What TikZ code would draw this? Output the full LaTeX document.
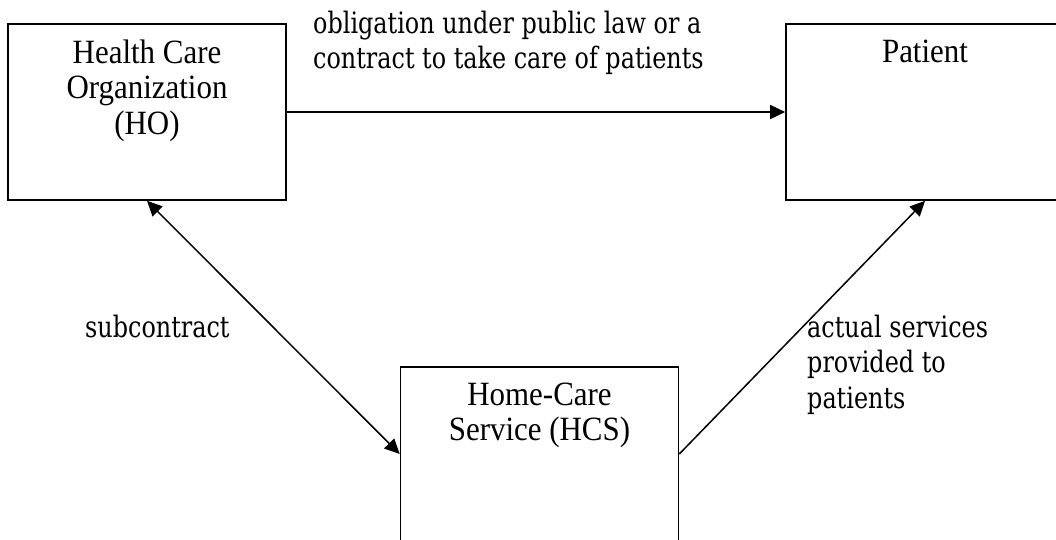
\documentclass[tikz,border=0pt]{standalone}
\usepackage{fontspec}
\setmainfont{Liberation Serif}[FakeStretch=0.91]
\newfontfamily\notefont{DejaVu Serif}[FakeStretch=0.81]
\usetikzlibrary{arrows.meta}
% invisible strut fixing the top of a first line 25pt above its baseline
\newcommand\lnup{\rule{0pt}{25pt}}

\begin{document}
\begin{tikzpicture}[x=1pt,y=-1pt,
  party/.style={draw, line width=1.6pt, rectangle, minimum width=278pt,
    minimum height=176pt, inner sep=0},
  boxtext/.style={anchor=north, inner sep=0, align=center,
    font=\fontsize{34}{35.5}\selectfont},
  note/.style={anchor=north west, inner sep=0, align=left,
    font=\notefont\fontsize{29.5}{35.5}\selectfont},
  tip/.tip={Triangle[length=15pt,width=14pt]},
  link/.style={line width=1.5pt, -tip},
  duallink/.style={line width=1.5pt, tip-tip},
]
\useasboundingbox (0,0) rectangle (1056,539);
\clip (0,0) rectangle (1056,539);

% the three parties
\node[party] (ho) at (147,112) {};
\node[party] (pat) at (925,112) {};
\node[party, minimum height=174pt] (hcs) at (539.5,454) {};

\node[boxtext] (hotext) at (147,38) {\lnup Health Care\\Organization\\(HO)};
\node[boxtext] (pattext) at (925,37) {\lnup Patient};
\node[boxtext] (hcstext) at (539.5,380) {\lnup Home-Care\\Service (HCS)};

% relations between them
\draw[link] (ho.east) -- (pat.west);
\draw[duallink] (ho.south) -- (hcs.west);
\draw[link] (hcs.east) -- (pat.south);

\node[note] (oblig) at (313,8)
  {\lnup obligation under public law or a\\contract to take care of patients};
\node[note] (sub) at (85,312) {\lnup subcontract};
\node[note] (serv) at (807,312) {\lnup actual services\\provided to\\patients};
\end{tikzpicture}
\end{document}
